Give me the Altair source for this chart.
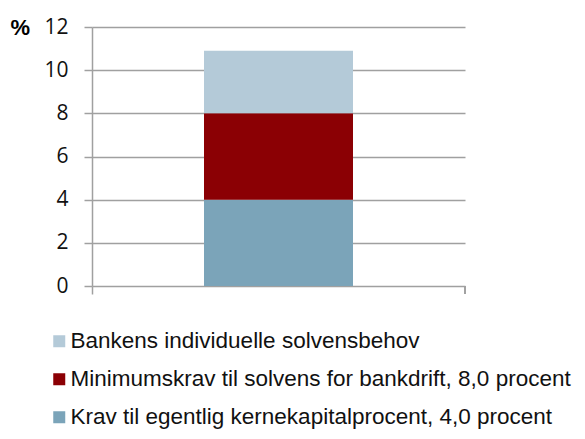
import altair as alt
import pandas as pd

categories = ["Krav til egentlig kernekapitalprocent, 4,0 procent",
              "Minimumskrav til solvens for bankdrift, 8,0 procent",
              "Bankens individuelle solvensbehov"]
values = [4.0, 4.0, 2.9]
stack_order = [1, 2, 3]
colors = ["#7ba4b9", "#8b0004", "#b4cad8"]
y_ticks = [0, 2, 4, 6, 8, 10, 12]

df = pd.DataFrame({"x": [""] * 3, "serie": categories, "v": values, "o": stack_order})

W, H = 373, 259
legend_domain = categories[::-1]
legend_range = colors[::-1]

bars = alt.Chart(df).mark_bar(size=149).encode(
    x=alt.X("x:N", title=None,
            scale=alt.Scale(paddingInner=0, paddingOuter=0),
            axis=alt.Axis(labels=False, ticks=True, bandPosition=0, tickSize=8,
                          tickColor="#a0a0a0", tickWidth=1.5, domain=False)),
    y=alt.Y("v:Q", stack="zero",
            scale=alt.Scale(domain=[0, 12]),
            axis=alt.Axis(values=y_ticks, title="%", titleAngle=0, titleAlign="left",
                          titleBaseline="middle", titleX=-82, titleY=0,
                          titleFontWeight="bold", titleFontSize=22, titleFont="Liberation Sans",
                          labelFontSize=21, labelFont="Open Sans", labelColor="#111",
                          labelPadding=16, tickSize=8, tickColor="#a0a0a0", tickWidth=1.5,
                          domainColor="#a0a0a0", domainWidth=1.5,
                          gridColor="#a0a0a0", gridWidth=1.5)),
    color=alt.Color("serie:N", scale=alt.Scale(domain=legend_domain, range=legend_range),
                    legend=alt.Legend(title=None, orient="none", legendX=-44, legendY=303,
                                      direction="vertical", symbolType="square", symbolSize=144,
                                      symbolStrokeWidth=0, labelFontSize=22.5,
                                      labelFont="Liberation Sans", labelColor="#111",
                                      rowPadding=15, labelLimit=600, symbolOffset=0,
                                      labelOffset=0)),
    order=alt.Order("o:Q"),
)

edge = alt.Chart(df).mark_rule(color="#a0a0a0", strokeWidth=1.5).encode(
    x=alt.value(W), y=alt.value(H), y2=alt.value(H + 8)
)

chart = alt.layer(bars, edge).properties(
    width=W, height=H,
    autosize=alt.AutoSizeParams(type="none"),
    padding={"left": 84, "top": 19, "right": 112, "bottom": 145},
).configure_view(stroke=None)

chart.save("out.html", embed_options={"renderer": "svg", "actions": False})
